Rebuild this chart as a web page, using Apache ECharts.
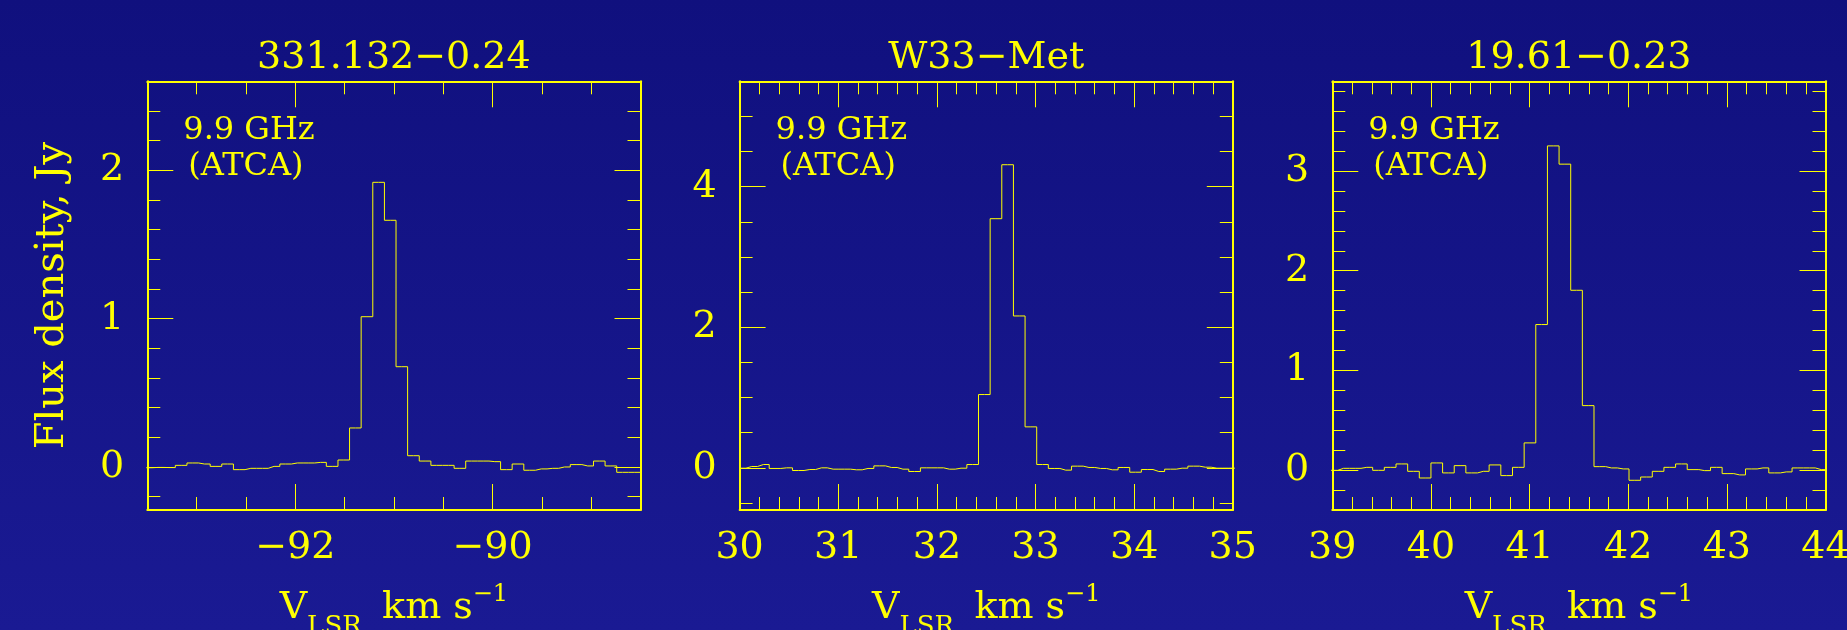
<!DOCTYPE html>
<html>
<head>
<meta charset="utf-8">
<title>9.9 GHz methanol maser spectra (ATCA)</title>
<script src="https://cdn.jsdelivr.net/npm/echarts@6/dist/echarts.min.js"></script>
<style>
  html, body { margin: 0; padding: 0; }
  body { background: linear-gradient(#10107e, #1a1a93); }
  #chart { width: 1847px; height: 630px; }
</style>
</head>
<body>
<div id="chart"></div>
<script>
"use strict";

// ---- values ----
var sources = ['331.132\u22120.24', 'W33\u2212Met', '19.61\u22120.23'];
var noteLines = ['9.9 GHz', '(ATCA)'];

// 331.132-0.24 : channel velocity (km/s) and flux density (Jy)
var vel331 = [-93.510, -93.393, -93.275, -93.157, -93.039, -92.921, -92.804, -92.686, -92.568, -92.450,
  -92.333, -92.215, -92.097, -91.979, -91.862, -91.744, -91.626, -91.508, -91.391, -91.273,
  -91.155, -91.037, -90.920, -90.802, -90.684, -90.566, -90.448, -90.331, -90.213, -90.095,
  -89.977, -89.860, -89.742, -89.624, -89.506, -89.389, -89.271, -89.153, -89.035, -88.918,
  -88.800, -88.682, -88.564, -88.446];
var flux331 = [-0.005, -0.003, -0.004, 0.011, 0.027, 0.020, 0.004, 0.020, -0.018, -0.009,
  -0.009, 0.004, 0.020, 0.027, 0.027, 0.031, 0.004, 0.047, 0.263, 1.013,
  1.919, 1.663, 0.676, 0.076, 0.040, 0.011, 0.011, -0.009, 0.040, 0.040,
  0.036, -0.018, 0.020, -0.022, -0.013, -0.009, 0.000, 0.016, 0.007, 0.040,
  0.007, -0.036, -0.036, -0.036];

// W33-Met
var velW33 = [29.887, 30.005, 30.123, 30.241, 30.359, 30.477, 30.595, 30.712, 30.830, 30.948,
  31.066, 31.184, 31.302, 31.420, 31.538, 31.656, 31.774, 31.892, 32.009, 32.127,
  32.245, 32.363, 32.481, 32.599, 32.717, 32.835, 32.953, 33.071, 33.189, 33.306,
  33.424, 33.542, 33.660, 33.778, 33.896, 34.014, 34.132, 34.250, 34.368, 34.486,
  34.603, 34.721, 34.839, 34.957, 35.075];
var fluxW33 = [-0.005, -0.005, 0.019, 0.047, -0.009, 0.000, -0.038, -0.024, 0.000, -0.019,
  -0.019, -0.028, -0.009, 0.028, 0.005, -0.019, -0.052, 0.000, 0.000, -0.019,
  -0.005, 0.047, 1.043, 3.545, 4.313, 2.161, 0.583, 0.047, -0.009, -0.033,
  0.024, 0.005, -0.009, -0.028, 0.005, -0.062, -0.024, -0.052, -0.019, -0.005,
  0.024, 0.009, -0.005, -0.005, -0.005];

// 19.61-0.23
var vel1961 = [38.878, 38.996, 39.114, 39.232, 39.350, 39.468, 39.587, 39.705, 39.823, 39.941,
  40.059, 40.177, 40.295, 40.413, 40.531, 40.649, 40.768, 40.886, 41.004, 41.122,
  41.240, 41.358, 41.476, 41.594, 41.712, 41.830, 41.949, 42.067, 42.185, 42.303,
  42.421, 42.539, 42.657, 42.775, 42.893, 43.011, 43.130, 43.248, 43.366, 43.484,
  43.602, 43.720, 43.838, 43.956, 44.074];
var flux1961 = [-0.002, -0.002, 0.018, 0.018, 0.028, -0.002, 0.028, 0.062, -0.012, -0.079,
  0.072, -0.028, 0.045, -0.028, -0.012, 0.052, -0.055, 0.028, 0.273, 1.460,
  3.252, 3.069, 1.804, 0.647, 0.035, 0.022, 0.012, -0.102, -0.069, -0.012,
  0.028, 0.062, 0.005, -0.005, 0.028, -0.035, -0.048, 0.012, 0.022, -0.028,
  -0.018, 0.022, 0.022, 0.005, 0.005];

// labelled (long) ticks
var xTicks331 = [-92, -90];
var yTicks331 = [0, 1, 2];
var xTicksW33 = [30, 31, 32, 33, 34, 35];
var yTicksW33 = [0, 2, 4];
var xTicks1961 = [39, 40, 41, 42, 43, 44];
var yTicks1961 = [0, 1, 2, 3];

var panels = [
  { vel: vel331, flux: flux331, xRange: [-93.5, -88.5], yRange: [-0.29, 2.6],
    xMajor: xTicks331, yMajor: yTicks331, xStep: 0.5, yStep: 0.2 },
  { vel: velW33, flux: fluxW33, xRange: [30, 35], yRange: [-0.6, 5.5],
    xMajor: xTicksW33, yMajor: yTicksW33, xStep: 0.2, yStep: 0.5 },
  { vel: vel1961, flux: flux1961, xRange: [39, 44], yRange: [-0.4, 3.9],
    xMajor: xTicks1961, yMajor: yTicks1961, xStep: 0.2, yStep: 0.2 }
];

// ---- layout ----
var yellow = '#ffff00';
var fontFamily = '"DejaVu Serif", "Liberation Serif", serif';
var gridLeft = [147.3, 739.6, 1332.3];
var gridTop = 81.3, gridWidth = 493.2, gridHeight = 428.7;

function minusSign(v) {
  return String(v).replace('-', '\u2212');
}

// short ticks between the labelled ones
function minorTicks(range, step, major) {
  var out = [];
  for (var k = Math.ceil(range[0] / step - 1e-6); k * step <= range[1] + 1e-6; k++) {
    var v = Math.round(k * step * 1000) / 1000;
    if (v <= range[0] || v >= range[1]) continue;
    if (major.some(function (m) { return Math.abs(m - v) < 1e-6; })) continue;
    out.push(v);
  }
  return out;
}

function makeAxis(dim, i, position, isMajor) {
  var p = panels[i];
  var range = dim === 'x' ? p.xRange : p.yRange;
  var major = dim === 'x' ? p.xMajor : p.yMajor;
  var ticks = isMajor ? major : minorTicks(range, dim === 'x' ? p.xStep : p.yStep, major);
  var showLabel = isMajor && (position === 'bottom' || position === 'left');
  return {
    type: 'value',
    gridIndex: i,
    position: position,
    min: range[0],
    max: range[1],
    axisLine: { show: isMajor, onZero: false, lineStyle: { color: yellow, width: 2 } },
    axisTick: {
      show: true, inside: true, length: isMajor ? 26 : 13,
      customValues: ticks,
      lineStyle: { color: yellow, width: 1 }
    },
    axisLabel: {
      show: showLabel,
      customValues: ticks,
      formatter: minusSign,
      color: yellow,
      fontFamily: fontFamily,
      fontSize: 38,
      lineHeight: 38,
      margin: dim === 'x' ? 19 : 23
    },
    splitLine: { show: false },
    minorTick: { show: false }
  };
}

// V_LSR, km s^-1 with sub- and superscript, drawn under each panel
var velocityTitle = {
  text: '{v|V}{sub|LSR,}{t| km s}{sup|\u22121}',
  rich: {
    v: { fill: yellow, fontFamily: fontFamily, fontSize: 38, lineHeight: 38, verticalAlign: 'middle' },
    t: { fill: yellow, fontFamily: fontFamily, fontSize: 38, lineHeight: 38, verticalAlign: 'middle' },
    sub: { fill: yellow, fontFamily: fontFamily, fontSize: 26, lineHeight: 26, verticalAlign: 'middle', padding: [39, 0, 0, 0] },
    sup: { fill: yellow, fontFamily: fontFamily, fontSize: 24, lineHeight: 24, verticalAlign: 'middle', padding: [0, 0, 27, 0] }
  }
};

var xAxes = [], yAxes = [], grids = [], series = [], graphics = [];

panels.forEach(function (p, i) {
  grids.push({
    left: gridLeft[i], top: gridTop, width: gridWidth, height: gridHeight,
    containLabel: false, outerBoundsMode: 'none'
  });

  xAxes.push(makeAxis('x', i, 'bottom', true), makeAxis('x', i, 'bottom', false),
    makeAxis('x', i, 'top', true), makeAxis('x', i, 'top', false));

  var yl = makeAxis('y', i, 'left', true);
  if (i === 0) {
    yl.name = 'Flux density, Jy';
    yl.nameLocation = 'middle';
    yl.nameGap = 75;
    yl.nameTextStyle = { color: yellow, fontFamily: fontFamily, fontSize: 40, lineHeight: 40 };
  }
  yAxes.push(yl, makeAxis('y', i, 'left', false), makeAxis('y', i, 'right', true), makeAxis('y', i, 'right', false));

  series.push({
    type: 'line',
    name: sources[i],
    xAxisIndex: 4 * i,
    yAxisIndex: 4 * i,
    step: 'middle',
    symbol: 'none',
    clip: true,
    silent: true,
    lineStyle: { color: yellow, width: 1 },
    data: p.vel.map(function (v, j) { return [v, p.flux[j]]; })
  });

  graphics.push({
    type: 'text',
    x: gridLeft[i] + gridWidth / 2,
    y: 58,
    style: { text: sources[i], fill: yellow, fontFamily: fontFamily, fontSize: 38, align: 'center', verticalAlign: 'middle' }
  });
  graphics.push({
    type: 'text',
    x: gridLeft[i] + 36,
    y: 130.5,
    style: { text: noteLines[0], fill: yellow, fontFamily: fontFamily, fontSize: 32, align: 'left', verticalAlign: 'middle' }
  });
  graphics.push({
    type: 'text',
    x: gridLeft[i] + 41,
    y: 166.5,
    style: { text: noteLines[1], fill: yellow, fontFamily: fontFamily, fontSize: 32, align: 'left', verticalAlign: 'middle' }
  });
  graphics.push({
    type: 'text',
    x: gridLeft[i] + gridWidth / 2,
    y: 608,
    style: {
      text: velocityTitle.text, rich: velocityTitle.rich, fill: yellow,
      fontFamily: fontFamily, fontSize: 38, align: 'center', verticalAlign: 'middle'
    }
  });
});

var chart = echarts.init(document.getElementById('chart'));
chart.setOption({
  backgroundColor: 'transparent',
  animation: false,
  grid: grids,
  xAxis: xAxes,
  yAxis: yAxes,
  series: series,
  graphic: graphics
});
</script>
</body>
</html>
